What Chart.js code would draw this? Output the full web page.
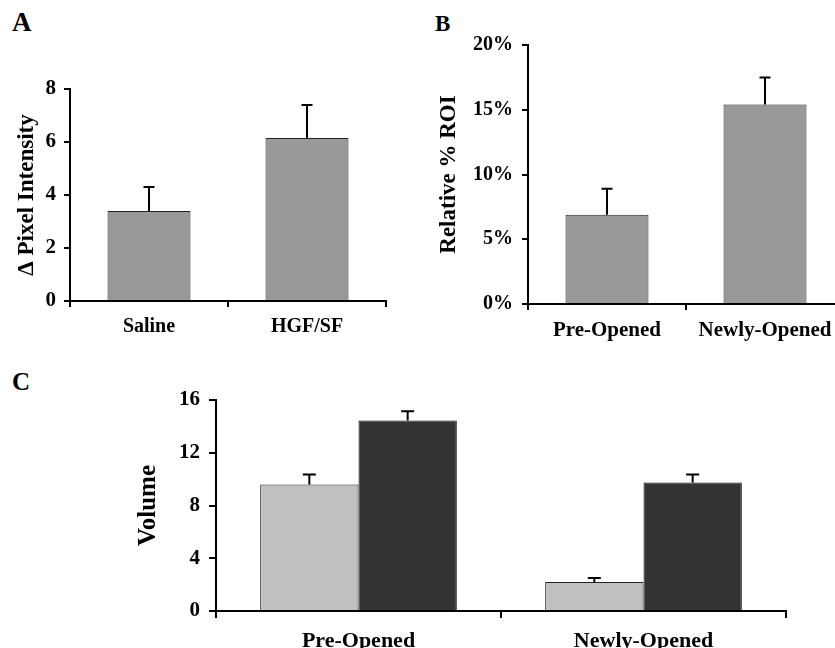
<!DOCTYPE html>
<html>
<head>
<meta charset="utf-8">
<script src="https://cdn.jsdelivr.net/npm/chart.js@4.4.1/dist/chart.umd.min.js"></script>
<style>
  html, body { margin: 0; padding: 0; background: #fff; overflow: hidden; }
  body { width: 835px; height: 648px; position: relative; }
  canvas { position: absolute; }
  .panel { position: absolute; font-family: "Liberation Serif", serif; font-weight: bold; line-height: 1; color: #000; }
</style>
</head>
<body>
<div class="panel" style="left:12px; top:9px; font-size:27px;">A</div>
<div class="panel" style="left:435px; top:12px; font-size:23px;">B</div>
<div class="panel" style="left:12px; top:369px; font-size:25px;">C</div>

<canvas id="chartA" width="420" height="345" style="left:0; top:0;"></canvas>
<canvas id="chartB" width="430" height="345" style="left:420px; top:0;"></canvas>
<canvas id="chartC" width="835" height="288" style="left:0; top:360px;"></canvas>

<script>
// panel A
const labelsA = ["Saline", "HGF/SF"]
const valuesA = [3.4, 6.15]
const errorsA = [0.9, 1.25]

// panel B (percent)
const labelsB = ["Pre-Opened", "Newly-Opened"]
const valuesB = [6.9, 15.4]
const errorsB = [2.0, 2.1]

// panel C
const labelsC = ["Pre-Opened", "Newly-Opened"]
const lightC = [9.6, 2.2]
const lightErrC = [0.75, 0.3]
const darkC = [14.45, 9.75]
const darkErrC = [0.7, 0.6]

const serif = "'Liberation Serif', 'Times New Roman', serif"

// draws upward error bars from the dataset's errors array
const errorBars = {
    id: 'errorBars',
    afterDatasetsDraw(chart, args, opts) {
        const ctx = chart.ctx
        const y = chart.scales.y
        ctx.save()
        ctx.strokeStyle = '#000'
        ctx.lineWidth = 2
        chart.data.datasets.forEach((ds, i) => {
            const meta = chart.getDatasetMeta(i)
            meta.data.forEach((bar, j) => {
                const top = y.getPixelForValue(ds.data[j] + ds.errors[j])
                const half = opts.cap / 2
                ctx.beginPath()
                ctx.moveTo(bar.x, bar.y)
                ctx.lineTo(bar.x, top)
                ctx.moveTo(bar.x - half, top)
                ctx.lineTo(bar.x + half, top)
                ctx.stroke()
            })
        })
        ctx.restore()
    }
}

function makeChart(id, cfg) {
    return new Chart(document.getElementById(id), {
        type: 'bar',
        data: { labels: cfg.labels, datasets: cfg.datasets },
        options: {
            responsive: false,
            animation: false,
            layout: { padding: cfg.padding },
            plugins: {
                legend: { display: false },
                tooltip: { enabled: false },
                errorBars: { cap: cfg.cap }
            },
            scales: {
                x: {
                    afterFit: s => { s.height = cfg.xHeight },
                    border: { display: true, color: '#000', width: 2 },
                    grid: { display: true, drawOnChartArea: false, color: '#000', lineWidth: 2, tickLength: cfg.tickLen },
                    ticks: { color: '#000', padding: cfg.xPad, font: { family: serif, weight: 'bold', size: cfg.xFont } }
                },
                y: {
                    min: 0,
                    max: cfg.max,
                    afterFit: s => { s.width = cfg.yWidth },
                    border: { display: true, color: '#000', width: 2 },
                    grid: { display: true, drawOnChartArea: false, color: '#000', lineWidth: 2, tickLength: cfg.tickLen },
                    ticks: {
                        stepSize: cfg.step,
                        color: '#000',
                        padding: cfg.yPad,
                        font: { family: serif, weight: 'bold', size: cfg.yFont },
                        callback: cfg.tickFmt || (v => v)
                    },
                    title: {
                        display: true,
                        text: cfg.title,
                        color: '#000',
                        padding: { top: cfg.titlePad, bottom: 0 },
                        font: { family: serif, weight: 'bold', size: cfg.titleFont }
                    }
                }
            }
        },
        plugins: [errorBars]
    })
}

makeChart('chartA', {
    labels: labelsA,
    datasets: [{
        data: valuesA, errors: errorsA,
        backgroundColor: '#999999', borderColor: '#222', borderWidth: 1,
        barPercentage: 0.525, categoryPercentage: 1
    }],
    padding: { left: 0, top: 89, right: 34, bottom: 0 },
    xHeight: 44, yWidth: 70, tickLen: 6, xPad: 8, yPad: 8,
    xFont: 20, yFont: 21, titleFont: 23, titlePad: 13,
    max: 8, step: 2, cap: 11,
    title: 'Δ Pixel Intensity'
})

makeChart('chartB', {
    labels: labelsB,
    datasets: [{
        data: valuesB, errors: errorsB,
        backgroundColor: '#999999', borderColor: '#222', borderWidth: 1,
        barPercentage: 0.525, categoryPercentage: 1
    }],
    padding: { left: 0, top: 45, right: 6, bottom: 0 },
    xHeight: 41, yWidth: 108, tickLen: 6, xPad: 8, yPad: 9,
    xFont: 21, yFont: 20, titleFont: 23, titlePad: 15,
    max: 20, step: 5, cap: 11,
    tickFmt: v => v + '%',
    title: 'Relative % ROI'
})

makeChart('chartC', {
    labels: labelsC,
    datasets: [{
        data: lightC, errors: lightErrC,
        backgroundColor: '#c0c0c0', borderColor: '#222', borderWidth: 1,
        barPercentage: 1, categoryPercentage: 0.69
    }, {
        data: darkC, errors: darkErrC,
        backgroundColor: '#333333', borderColor: '#111', borderWidth: 1,
        barPercentage: 1, categoryPercentage: 0.69
    }],
    padding: { left: 0, top: 40, right: 49, bottom: 0 },
    xHeight: 37, yWidth: 216, tickLen: 7, xPad: 10, yPad: 9,
    xFont: 22, yFont: 21, titleFont: 25, titlePad: 134,
    max: 16, step: 4, cap: 13,
    title: 'Volume'
})
</script>
</body>
</html>
